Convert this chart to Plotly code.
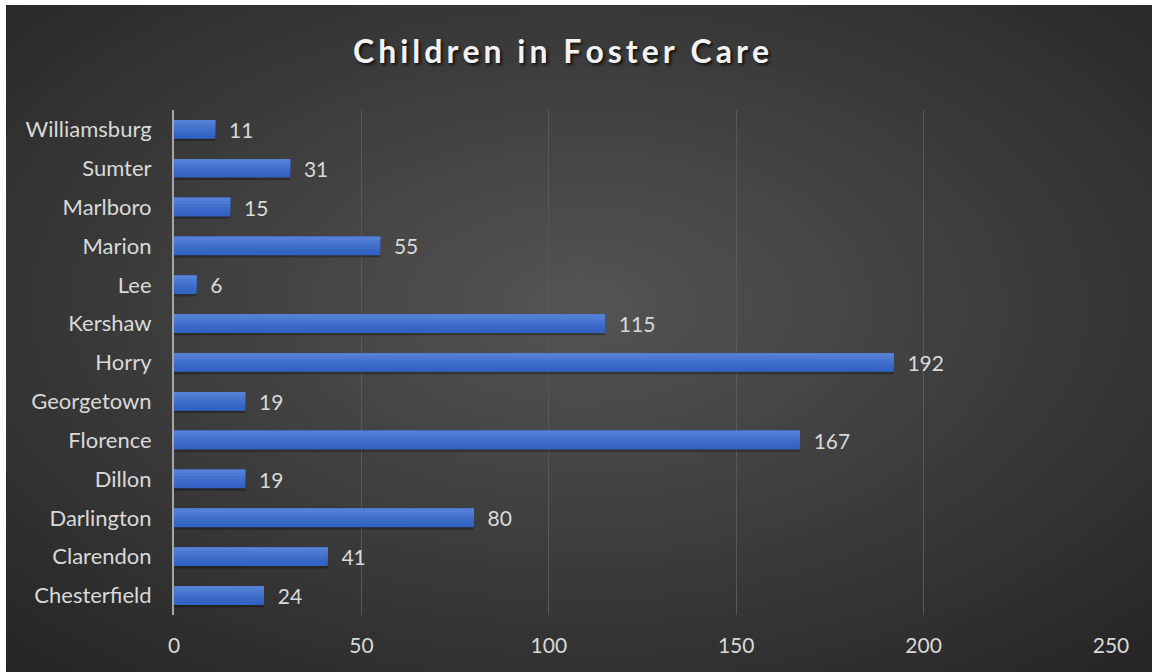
import base64
import plotly.graph_objects as go

counties = ["Chesterfield", "Clarendon", "Darlington", "Dillon", "Florence", "Georgetown",
            "Horry", "Kershaw", "Lee", "Marion", "Marlboro", "Sumter", "Williamsburg"]
children = [24, 41, 80, 19, 167, 19, 192, 115, 6, 55, 15, 31, 11]
x_ticks = [0, 50, 100, 150, 200, 250]
title_text = "Children in Foster Care"

W, H = 1153, 672
L, R, T, B = 174, 42, 110, 57
PW, PH = W - L - R, H - T - B

svg = """<svg xmlns='http://www.w3.org/2000/svg' width='1146' height='667' viewBox='0 0 1146 667' preserveAspectRatio='none'>
<defs><radialGradient id='g' cx='50%' cy='45%' r='75%'>
<stop offset='0%' stop-color='#545454'/><stop offset='100%' stop-color='#242424'/>
</radialGradient></defs><rect width='1146' height='667' fill='url(#g)'/></svg>"""
src = "data:image/svg+xml;base64," + base64.b64encode(svg.encode()).decode()

FONT = "Lato"
BAR_W = 0.48
fig = go.Figure()
# soft shadow under bars
fig.add_trace(go.Bar(
    y=counties, x=children, orientation="h", width=0.07, offset=-BAR_W / 2 - 0.06,
    marker=dict(color="rgba(0,0,0,0.30)", line=dict(width=0)), hoverinfo="skip",
))
band_colors = ["#3262c3", "#3767c6", "#3d6cc9", "#4572cd", "#4d79d1", "#5680d5"]
nb = len(band_colors)
for i, c in enumerate(band_colors):
    fig.add_trace(go.Bar(
        y=counties, x=children, orientation="h", width=BAR_W - i * BAR_W / nb,
        offset=-BAR_W / 2 + i * BAR_W / nb,
        marker=dict(color=c, line=dict(width=0)),
        hoverinfo="skip" if i else "x+y",
    ))
fig.add_trace(go.Bar(
    y=counties, x=children, orientation="h", width=BAR_W, offset=-BAR_W / 2,
    marker=dict(color="rgba(0,0,0,0)", line=dict(width=0)),
    text=["  " + str(v) for v in children], textposition="outside", constraintext="none",
    textfont=dict(color="#d9d9d9", size=21, family=FONT), cliponaxis=False,
    hoverinfo="skip",
))
spaced_title = "\u200a\u200a".join(title_text)
fig.update_layout(
    width=W, height=H, barmode="overlay", showlegend=False,
    margin=dict(l=L, r=R, t=T, b=B),
    paper_bgcolor="white", plot_bgcolor="rgba(0,0,0,0)",
    title=dict(text=spaced_title, x=561 / W, xref="container", xanchor="center",
               y=(H - 52) / H, yanchor="middle",
               font=dict(family=FONT, size=32, color="#f2f2f2", weight="bold",
                         shadow="2px 2px 3px #111")),
    images=[dict(source=src, xref="paper", yref="paper", x=(6 - L) / PW, y=(H - B - 5) / PH,
                 sizex=(1152 - 6) / PW, sizey=(H - 5) / PH, xanchor="left", yanchor="top",
                 sizing="stretch", layer="below")],
    xaxis=dict(range=[0, 250], tickvals=x_ticks, showgrid=True, gridcolor="#585858", gridwidth=1,
               zeroline=False, showline=False, ticks="", ticklabelstandoff=16,
               tickfont=dict(family=FONT, size=21, color="#d9d9d9"), fixedrange=True),
    yaxis=dict(showline=True, linecolor="#a6a6a6", linewidth=2, showgrid=False, ticks="",
               ticklabelstandoff=16, tickfont=dict(family=FONT, size=22, color="#d9d9d9"),
               fixedrange=True),
)
fig.write_html("out.html")
